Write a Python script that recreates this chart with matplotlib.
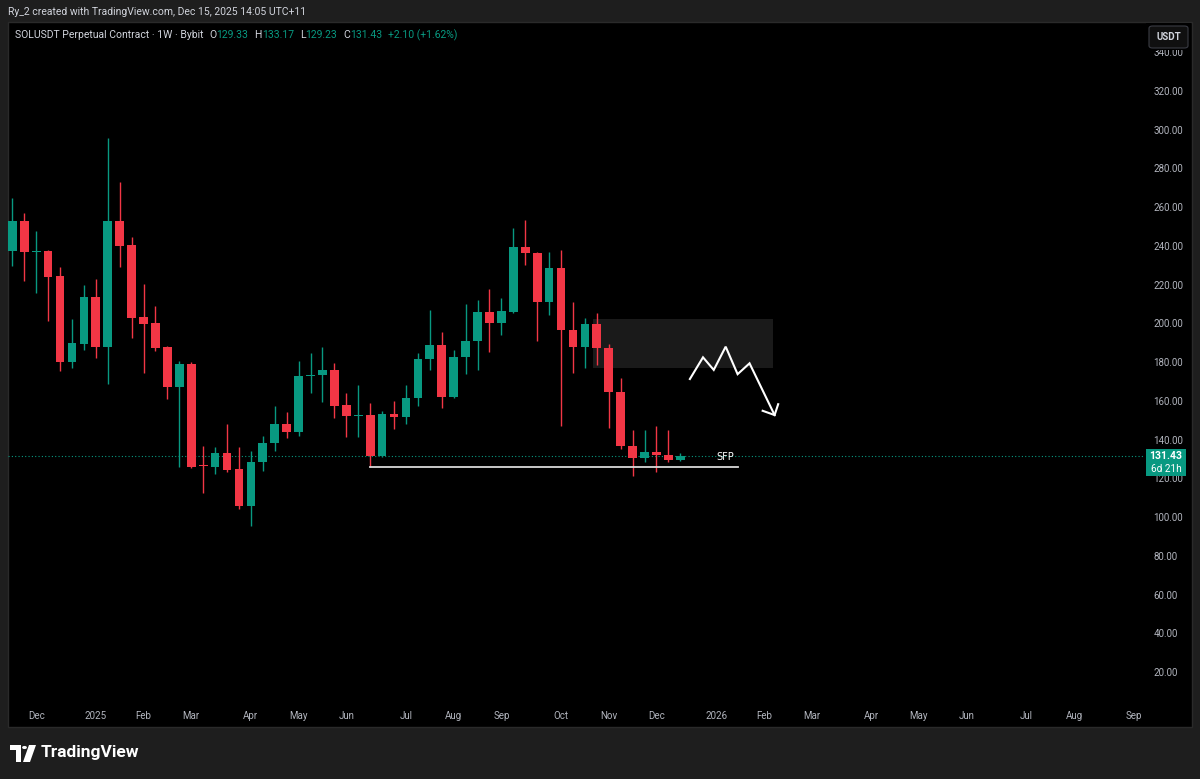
import matplotlib
matplotlib.use('Agg')
import matplotlib.pyplot as plt
import matplotlib.dates as mdates
from matplotlib.patches import Rectangle, Polygon, Circle, FancyBboxPatch
import pandas as pd

W, H = 1200, 779

# ---------------- data ----------------
start_week = '2024-11-18'
n_weeks = 57
opens = [237.4, 253.0, 237.0, 237.3, 224.5, 180.3, 189.4, 213.5, 188.0, 253.0,
         240.3, 203.5, 200.4, 188.0, 167.4, 178.9, 126.8, 126.0, 133.0, 124.9,
         105.7, 128.3, 138.1, 148.1, 144.1, 173.0, 173.4, 176.0, 157.9, 152.2,
         152.9, 131.6, 153.3, 151.9, 161.3, 181.5, 188.9, 161.9, 182.5, 191.1,
         206.1, 200.4, 206.1, 239.6, 236.5, 210.8, 228.5, 196.6, 188.0, 199.7,
         187.5, 164.8, 136.9, 130.4, 133.5, 132.1, 129.33]
highs = [264.6, 256.9, 247.7, 238.0, 229.3, 202.1, 219.8, 223.0, 295.6, 273.2,
         244.8, 220.2, 209.0, 188.5, 180.8, 180.0, 136.7, 136.4, 148.0, 136.4,
         134.1, 141.9, 157.4, 154.1, 180.6, 184.9, 187.7, 179.7, 163.9, 168.2,
         159.1, 154.8, 160.0, 168.2, 184.9, 206.9, 195.4, 186.3, 210.0, 212.1,
         217.8, 213.0, 249.1, 253.4, 237.0, 237.0, 237.9, 211.2, 202.6, 205.6,
         189.4, 171.7, 145.0, 145.0, 147.0, 145.0, 133.17]
lows = [229.8, 222.1, 215.6, 201.3, 175.6, 176.8, 186.3, 182.0, 168.6, 229.3,
        192.3, 174.6, 186.0, 160.8, 126.0, 125.4, 112.3, 122.3, 123.1, 104.2,
        95.6, 124.0, 134.3, 140.7, 141.9, 164.2, 159.6, 151.0, 141.5, 141.2,
        126.0, 131.2, 145.4, 148.1, 157.5, 176.0, 156.2, 161.5, 173.7, 176.0,
        185.4, 194.2, 205.5, 230.2, 190.9, 204.4, 147.0, 174.3, 176.8, 178.5,
        146.2, 135.0, 121.4, 128.7, 123.5, 128.3, 129.23]
closes = [253.0, 237.0, 237.5, 224.1, 180.3, 189.7, 213.5, 188.0, 253.0, 240.0,
          203.0, 199.7, 187.5, 167.4, 178.9, 126.0, 126.2, 133.0, 124.3, 105.7,
          128.6, 138.1, 148.1, 144.1, 173.0, 173.6, 176.0, 157.4, 152.2, 152.8,
          131.6, 153.3, 151.9, 161.3, 181.5, 188.9, 161.9, 182.5, 191.1, 206.1,
          200.4, 206.4, 239.6, 236.2, 210.8, 228.5, 196.6, 188.0, 199.7, 187.5,
          164.8, 136.9, 130.4, 133.5, 132.1, 129.33, 131.43]

price_ticks = [20, 40, 60, 80, 100, 120, 140, 160, 180, 200, 220, 240, 260, 280, 300, 320, 340]
month_starts = pd.date_range('2024-12-01', '2026-09-01', freq='MS')
month_labels = ['Dec', '2025', 'Feb', 'Mar', 'Apr', 'May', 'Jun', 'Jul', 'Aug', 'Sep', 'Oct',
                'Nov', 'Dec', '2026', 'Feb', 'Mar', 'Apr', 'May', 'Jun', 'Jul', 'Aug', 'Sep']

last_price = 131.43
sfp_level = 126.0
sfp_start_idx, sfp_end_idx = 30, 60.8
zone_idx = (48.7, 63.8)
zone_price = (176.8, 202.1)
path_idx = [56.8, 57.9, 58.8, 59.8, 60.8, 61.8, 63.9]
path_price = [171.3, 182.5, 176.0, 188.0, 173.8, 179.4, 152.7]
head_idx = [62.9, 63.9, 64.2]
head_price = [154.9, 152.7, 158.3]

# ---------------- style ----------------
UP = '#089981'
DN = '#f23645'
TXT = '#b2b5be'
FRAME = '#1e1e1e'

fig = plt.figure(figsize=(12, 7.79), dpi=100)
fig.patch.set_facecolor(FRAME)


def px_rect(x0, y0, x1, y1, **kw):
    r = Rectangle((x0 / W, 1 - y1 / H), (x1 - x0) / W, (y1 - y0) / H,
                  transform=fig.transFigure, **kw)
    fig.add_artist(r)
    return r


# black chart panel
px_rect(8, 22, 1192, 727, facecolor='black', edgecolor='#2a2a2a', lw=1, zorder=0)

ax = fig.add_axes([8 / W, 1 - 703 / H, (1145 - 8) / W, (703 - 22) / H])
ax.set_facecolor('black')
ax.patch.set_alpha(0)
for s in ax.spines.values():
    s.set_visible(False)

dates = pd.date_range(start_week, periods=n_weeks, freq='7D')
xs = mdates.date2num(dates)
d0 = xs[0]
wk = 7.0


def ix(i):
    return d0 + i * wk


body_w = 0.73 * wk
for x, o, h, l, c in zip(xs, opens, highs, lows, closes):
    col = UP if c >= o else DN
    ax.vlines(x, l, h, color=col, lw=1.0, zorder=3)
    bh = max(abs(c - o), 0.6)
    ax.bar(x, bh, bottom=min(o, c), width=body_w, color=col, lw=0, zorder=4)

# zone box
ax.add_patch(Rectangle((ix(zone_idx[0]), zone_price[0]), ix(zone_idx[1]) - ix(zone_idx[0]),
                       zone_price[1] - zone_price[0], facecolor='#1a1a1a', edgecolor='none', zorder=1))

# current price dotted line
ax.axhline(last_price, color=UP, lw=0.8, ls=(0, (1, 2)), zorder=2)

# SFP line
ax.plot([ix(sfp_start_idx), ix(sfp_end_idx)], [sfp_level, sfp_level], color='#d9d9d9', lw=1.3, zorder=5)
ax.text(ix(59.8), 130.9, 'SFP', color='white', fontsize=7, ha='center', va='center', zorder=6)

# projected path
ax.plot([ix(i) for i in path_idx], path_price, color='white', lw=1.5, zorder=6,
        solid_joinstyle='miter')
ax.plot([ix(i) for i in head_idx], head_price, color='white', lw=1.5, zorder=6,
        solid_joinstyle='miter')

ax.set_xlim(ix(-0.36), ix(94.95))
ax.set_ylim(4.05, 355.6)

# x ticks: first weekly bar of each month
tick_pos = []
for m in month_starts:
    d = m + pd.Timedelta(days=(7 - m.weekday()) % 7)
    tick_pos.append(mdates.date2num(d))
ax.set_xticks(tick_pos)
ax.set_xticklabels(month_labels)
ax.tick_params(axis='x', length=0, pad=6, labelsize=7, colors=TXT)

ax.yaxis.tick_right()
ax.set_yticks(price_ticks)
ax.set_yticklabels([f'{p:.2f}' for p in price_ticks])
ax.tick_params(axis='y', length=0, pad=6, labelsize=7, colors=TXT)
for t in ax.get_xticklabels() + ax.get_yticklabels():
    t.set_fontfamily('Roboto')

# price-scale mask at top (clips the 340 label)
px_rect(1146, 23, 1191, 50, facecolor='black', edgecolor='none', zorder=9)

# current price label
px_rect(1146, 449, 1186, 476, facecolor=UP, edgecolor='none', zorder=10)
fig.text(1166 / W, 1 - 456.5 / H, '131.43', color='white', fontsize=7.5, fontweight='bold',
         ha='center', va='center', family='Roboto', zorder=11)
fig.text(1166 / W, 1 - 468.5 / H, '6d 21h', color='white', fontsize=7.2,
         ha='center', va='center', family='Roboto', zorder=11)

# USDT button
btn = FancyBboxPatch((1149 / W, 1 - 48 / H), 39 / W, 22 / H, boxstyle='round,pad=0,rounding_size=0.003',
                     transform=fig.transFigure, facecolor='#101010', edgecolor='#3a3c44', lw=0.8, zorder=10)
fig.add_artist(btn)
fig.text(1168.5 / W, 1 - 37 / H, 'USDT', color='#d1d4dc', fontsize=7, fontweight='bold',
         ha='center', va='center', family='Roboto', zorder=11)

# header
fig.text(8 / W, 1 - 12 / H, 'Ry_2 created with TradingView.com, Dec 15, 2025 14:05 UTC+11',
         color='#d1d4dc', fontsize=7.5, ha='left', va='center', family='Roboto')

# legend line (chained)
fig.canvas.draw()
rend = fig.canvas.get_renderer()
pieces = [('SOLUSDT Perpetual Contract · 1W · Bybit', '#d1d4dc', 6),
          ('O', '#d1d4dc', 0), ('129.33', UP, 6),
          ('H', '#d1d4dc', 0), ('133.17', UP, 6),
          ('L', '#d1d4dc', 0), ('129.23', UP, 6),
          ('C', '#d1d4dc', 0), ('131.43', UP, 6),
          ('+2.10 (+1.62%)', UP, 0)]
xcur = 15
for txt, col, gap in pieces:
    t = fig.text(xcur / W, 1 - 35 / H, txt, color=col, fontsize=7.5, ha='left', va='center',
                 family='Roboto')
    bb = t.get_window_extent(renderer=rend)
    xcur += bb.width + gap

# TradingView logo
def P(pts):
    return [(x / W, 1 - y / H) for x, y in pts]

fig.add_artist(Polygon(P([(10, 745), (21, 745), (21, 762), (16, 762), (16, 750), (10, 750)]),
                       closed=True, transform=fig.transFigure, facecolor='white', edgecolor='none'))
fig.add_artist(Circle((24.5 / W, 1 - 747.5 / H), 2.4 / W, transform=fig.transFigure,
                      facecolor='white', edgecolor='none'))
fig.add_artist(Polygon(P([(29, 745), (36, 745), (30, 762), (23, 762)]),
                       closed=True, transform=fig.transFigure, facecolor='white', edgecolor='none'))
fig.text(41 / W, 1 - 753 / H, 'TradingView', color='white', fontsize=12.5, fontweight='bold',
         ha='left', va='center', family='Roboto')

fig.savefig('out.png', dpi=100, facecolor=fig.get_facecolor())
